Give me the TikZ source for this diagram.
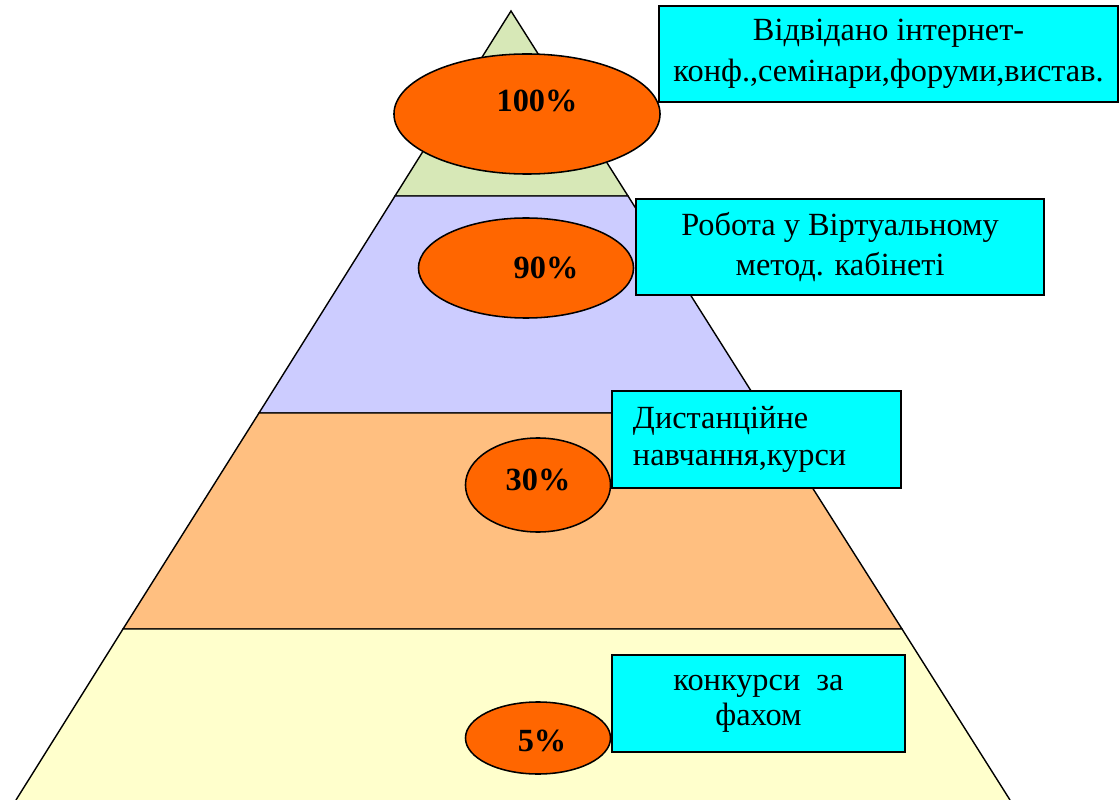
\documentclass[tikz,border=0pt]{standalone}
\usepackage{fontspec}
\setmainfont{Liberation Serif}
\usetikzlibrary{shapes.geometric}

\begin{document}
\begin{tikzpicture}[x=0.025cm, y=-0.025cm,
    pct/.style={ellipse, draw, line width=1.1pt, fill=pctorange, inner sep=0pt},
    pcttext/.style={font=\bfseries\fontsize{23}{26}\selectfont},
    infobox/.style={draw, line width=1.4pt, fill=boxcyan, inner sep=0pt, align=center,
        font=\fontsize{23}{29}\selectfont}]

    % Define colors
    \definecolor{topgreen}{RGB}{215,232,183}
    \definecolor{lavender}{RGB}{204,204,255}
    \definecolor{peach}{RGB}{255,191,128}
    \definecolor{cream}{RGB}{255,255,204}
    \definecolor{pctorange}{RGB}{255,102,0}
    \definecolor{boxcyan}{RGB}{0,255,255}

    \useasboundingbox (0,0) rectangle (1119,800);

    % Pyramid layers
    \filldraw[fill=topgreen, line width=1pt] (511,11) -- (395,196) -- (628,196) -- cycle;
    \filldraw[fill=lavender, line width=1pt] (395,196) -- (259,413) -- (765,413) -- (628,196) -- cycle;
    \filldraw[fill=peach, line width=1pt] (259,413) -- (123,629) -- (902,629) -- (765,413) -- cycle;
    \filldraw[fill=cream, line width=1pt] (16,800) -- (123,629) -- (902,629) -- (1010,800);

    % Percentages
    \node[pct, minimum width=6.65cm, minimum height=3cm] (e100) at (527,114) {};
    \node[pcttext, xshift=0.25cm, yshift=0.325cm] (t100) at (e100) {100\%};

    \node[pct, minimum width=5.375cm, minimum height=2.5cm] (e90) at (526,268) {};
    \node[pcttext, xshift=0.5cm] (t90) at (e90) {90\%};

    \node[pct, minimum width=3.625cm, minimum height=2.35cm] (e30) at (538,485) {};
    \node[pcttext, yshift=0.125cm] (t30) at (e30) {30\%};

    \node[pct, minimum width=3.625cm, minimum height=1.8cm] (e5) at (538,738) {};
    \node[pcttext, xshift=0.1cm, yshift=-0.075cm] (t5) at (e5) {5\%};

    % Text boxes
    \node[infobox, anchor=north west, minimum width=11.475cm, minimum height=2.4cm] (b100) at (658,5)
        {Відвідано інтернет-\\конф.,семінари,форуми,вистав.};
    \node[infobox, anchor=north west, minimum width=10.2cm, minimum height=2.4cm] (b90) at (635,198)
        {Робота у Віртуальному\\метод. кабінеті};
    \node[infobox, anchor=north west, align=left, inner xsep=0.525cm, text width=6.175cm,
        minimum height=2.425cm, font=\fontsize{23}{26}\selectfont] (b30) at (611,390)
        {Дистанційне\\навчання,курси};
    \node[infobox, anchor=north west, minimum width=7.325cm, minimum height=2.425cm,
        font=\fontsize{23}{25}\selectfont] (b5) at (611,654)
        {конкурси\ \ за\\фахом};

\end{tikzpicture}
\end{document}
